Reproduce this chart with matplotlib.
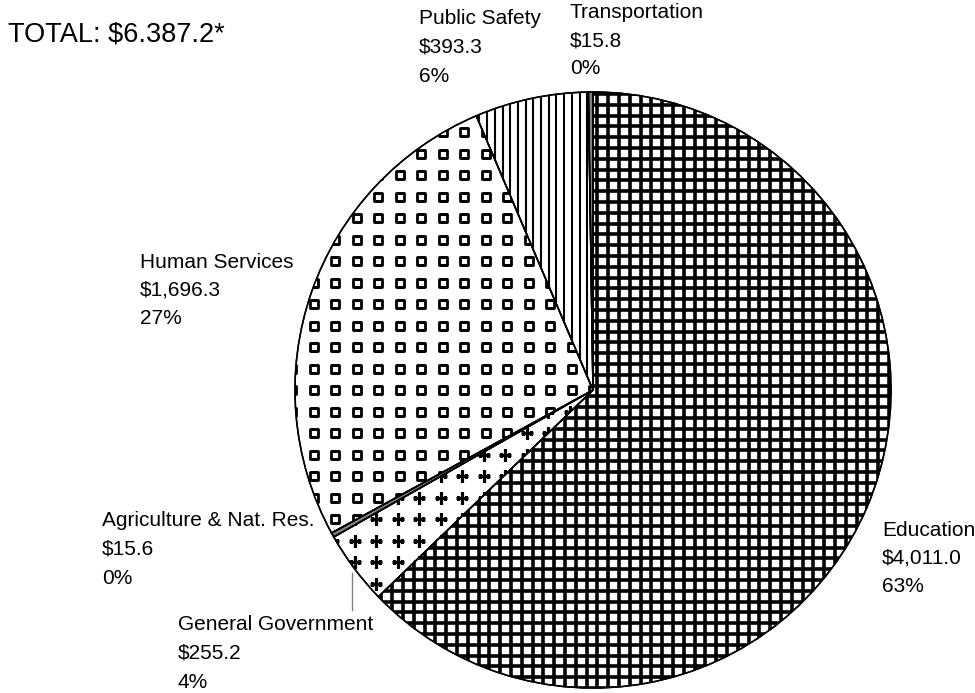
import matplotlib
matplotlib.use("Agg")
import matplotlib.pyplot as plt
import numpy as np

# spending by function, millions
categories = ["Education", "General Government", "Agriculture & Nat. Res.",
              "Human Services", "Public Safety", "Transportation"]
amounts = [4011.0, 255.2, 15.6, 1696.3, 393.3, 15.8]
total_label = "TOTAL: $6.387.2*"

W, H = 975, 693
fig = plt.figure(figsize=(W / 100, H / 100), dpi=100)
ax = fig.add_axes([0, 0, 1, 1])

# work in pixel units, y measured up from the bottom
cx, cy, r = 593, H - 390, 298
fills = ["white", "white", "#808080", "white", "white", "#808080"]

wedges, _ = ax.pie(amounts, colors=fills, startangle=90, counterclock=False,
                   center=(cx, cy), radius=r,
                   wedgeprops=dict(edgecolor="black", linewidth=1.1, zorder=1))

# Education: heavy grid
step = 10.8
xs = np.arange(cx - r, cx + r + step, step)
ys = np.arange(cy - r, cy + r + step, step)
for coll in (ax.vlines(xs, cy - r, cy + r, colors="black", linewidth=2.6, zorder=2),
             ax.hlines(ys, cx - r, cx + r, colors="black", linewidth=2.6, zorder=2)):
    coll.set_clip_path(wedges[0])

# Human Services / General Government share a marker grid
g = 21.5
k = np.arange(-14, 15)
gx, gy = np.meshgrid(cx + k * g, cy + k * g)
sq = ax.scatter(gx.ravel(), gy.ravel(), marker="s", s=30, facecolors="white",
                edgecolors="black", linewidths=2.0, zorder=2)
sq.set_clip_path(wedges[3])
pl = ax.scatter(gx.ravel() - 2, gy.ravel(), marker="+", s=85, color="black",
                linewidths=2.3, zorder=2)
pl.set_clip_path(wedges[1])

# Public Safety: vertical lines
vx = np.arange(cx + 2, cx - r, -7.7)
ax.vlines(vx, cy - r, cy + r, colors="black", linewidth=1.5, zorder=2).set_clip_path(wedges[4])

# outlines on top
ax.pie(amounts, startangle=90, counterclock=False, center=(cx, cy), radius=r,
       wedgeprops=dict(fill=False, edgecolor="black", linewidth=1.1, zorder=3))

# labels: name / amount / percent
label_pos = [(882, 530), (178, 625), (102, 521), (140, 262), (419, 19), (570, 12)]
total = sum(amounts)
for name, amt, (lx, ly) in zip(categories, amounts, label_pos):
    lines = [name, f"${amt:,.1f}", f"{round(amt / total * 100):.0f}%"]
    for i, s in enumerate(lines):
        ax.text(lx, H - (ly + i * 28.5), s, ha="left", va="center",
                fontsize=15, family="Liberation Sans", color="black")

# leader for General Government
ax.plot([352, 352], [H - 573, H - 610], color="#808080", linewidth=1, zorder=4)

ax.text(8, H - 35, total_label, ha="left", va="center", fontsize=19.5,
        family="Liberation Sans", color="black")

ax.set_xlim(0, W)
ax.set_ylim(0, H)
ax.axis("off")

fig.savefig("out.png", dpi=100)
